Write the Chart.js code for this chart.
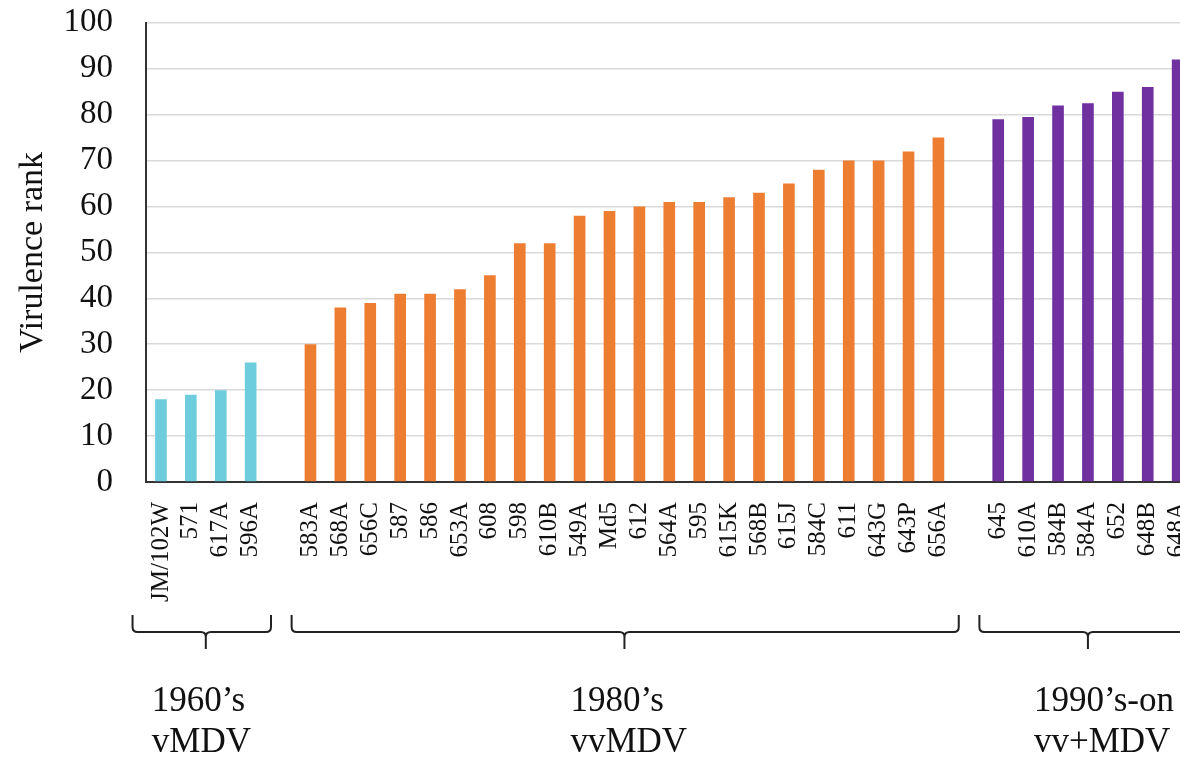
<!DOCTYPE html>
<html>
<head>
<meta charset="utf-8">
<script src="https://cdn.jsdelivr.net/npm/chart.js@4"></script>
<style>
  html, body { margin: 0; padding: 0; background: #fff; overflow: hidden; }
  /* tick padding pushes the plot top down, so the canvas is pulled up */
  #wrap { width: 1220px; height: 787px; position: relative; margin-top: -30px; }
</style>
</head>
<body>
<div id="wrap"><canvas id="chart"></canvas></div>
<script>
// strains and virulence ranks, one pair of arrays per pathotype group
const strains1960 = ["JM/102W", "571", "617A", "596A"];
const ranks1960 = [18, 19, 20, 26];

const strains1980 = ["583A", "568A", "656C", "587", "586", "653A", "608", "598", "610B", "549A", "Md5",
  "612", "564A", "595", "615K", "568B", "615J", "584C", "611", "643G", "643P", "656A"];
const ranks1980 = [30, 38, 39, 41, 41, 42, 45, 52, 52, 58, 59, 60, 61, 61, 62, 63, 65, 68, 70, 70, 72, 75];

const strains1990 = ["645", "610A", "584B", "584A", "652", "648B", "648A"];
const ranks1990 = [79, 79.5, 82, 82.5, 85, 86, 92];

const groupDecades = ["1960\u2019s", "1980\u2019s", "1990\u2019s-on"];
const groupTypes = ["vMDV", "vvMDV", "vv+MDV"];
const groupColors = ["#6ECDDD", "#ED7D31", "#7030A0"];

const yTicks = [0, 10, 20, 30, 40, 50, 60, 70, 80, 90, 100];

// build one category axis with an empty slot between groups
const groupStrains = [strains1960, strains1980, strains1990];
const groupRanks = [ranks1960, ranks1980, ranks1990];
let labels = [], values = [], colors = [], groupSpans = [];
groupStrains.forEach((names, g) => {
  if (g > 0) { labels.push(""); values.push(null); colors.push("#fff"); }
  const first = labels.length;
  names.forEach((n, i) => {
    labels.push(n);
    values.push(groupRanks[g][i]);
    colors.push(groupColors[g]);
  });
  groupSpans.push([first, labels.length - 1]);
});

const serif = "'Liberation Serif', 'Times New Roman', serif";

// braces and group captions under the axis
const bracePlugin = {
  id: "braces",
  afterDraw(chart) {
    const ctx = chart.ctx;
    const x = chart.scales.x;
    const slot = x.getPixelForValue(1) - x.getPixelForValue(0);
    const base = chart.chartArea.bottom;
    const yTop = base + 133, yLine = base + 150, yTip = base + 167;
    ctx.save();
    ctx.strokeStyle = "#222";
    ctx.lineWidth = 2;
    groupSpans.forEach((span, g) => {
      const x0 = x.getPixelForValue(span[0]) - (g == 0 ? 0.95 : 0.63) * slot;
      const x1 = x.getPixelForValue(span[1]) + 0.68 * slot;
      const xc = (x.getPixelForValue(span[0]) + x.getPixelForValue(span[1])) / 2;
      const r = 5;
      ctx.beginPath();
      ctx.moveTo(x0, yTop);
      ctx.lineTo(x0, yLine - r);
      ctx.quadraticCurveTo(x0, yLine, x0 + r, yLine);
      ctx.lineTo(xc - r, yLine);
      ctx.quadraticCurveTo(xc, yLine, xc, yLine + r);
      ctx.lineTo(xc, yTip);
      ctx.moveTo(xc, yLine + r);
      ctx.quadraticCurveTo(xc, yLine, xc + r, yLine);
      ctx.lineTo(x1 - r, yLine);
      ctx.quadraticCurveTo(x1, yLine, x1, yLine - r);
      ctx.lineTo(x1, yTop);
      ctx.stroke();

      ctx.fillStyle = "#111";
      ctx.font = "35px " + serif;
      ctx.textAlign = "left";
      ctx.textBaseline = "alphabetic";
      ctx.fillText(groupDecades[g], xc - 54, base + 229);
      ctx.fillText(groupTypes[g], xc - 54, base + 270);
    });
    ctx.restore();
  }
};

new Chart(document.getElementById("chart"), {
  type: "bar",
  data: {
    labels: labels,
    datasets: [{
      data: values,
      backgroundColor: colors,
      barPercentage: 0.39,
      categoryPercentage: 1.0
    }]
  },
  options: {
    responsive: true,
    maintainAspectRatio: false,
    animation: false,
    layout: { padding: { top: 20, right: 25, left: 0, bottom: 0 } },
    plugins: {
      legend: { display: false },
      tooltip: { enabled: false }
    },
    scales: {
      x: {
        grid: { display: false },
        border: { display: true, color: "#333", width: 2 },
        ticks: {
          autoSkip: false,
          maxRotation: 90,
          minRotation: 90,
          padding: 12,
          color: "#111",
          font: { family: serif, size: 25 }
        },
        afterFit(scale) { scale.height = 275; }
      },
      y: {
        min: 0,
        max: 100,
        afterBuildTicks(scale) { scale.ticks = yTicks.map(v => ({ value: v })); },
        grid: { color: "#d9d9d9", lineWidth: 1.5, drawTicks: false },
        border: { display: true, color: "#333", width: 2 },
        ticks: {
          padding: 33,
          color: "#111",
          font: { family: serif, size: 33 }
        },
        title: {
          display: true,
          text: "Virulence rank",
          color: "#111",
          font: { family: serif, size: 34 },
          padding: { top: 13, bottom: 0 }
        },
        afterFit(scale) { scale.width = 146; }
      }
    }
  },
  plugins: [bracePlugin]
});
</script>
</body>
</html>
